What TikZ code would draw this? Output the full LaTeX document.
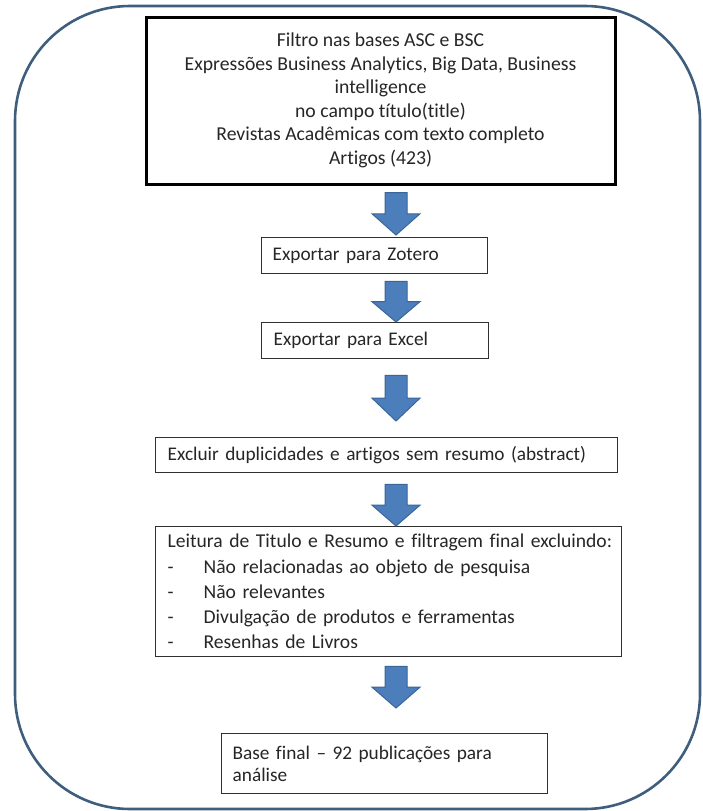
\documentclass[tikz,border=0pt]{standalone}
\usepackage{fontspec}
\setmainfont{Carlito}[Ligatures=NoCommon]
\usetikzlibrary{calc}
\definecolor{frameblue}{HTML}{3F5E7E}
\definecolor{arrowfill}{HTML}{4C7EBC}
\definecolor{arrowline}{HTML}{3A6597}
\definecolor{txtgray}{HTML}{262626}
\definecolor{boxline}{HTML}{303030}
\newcommand\flowarrow[2]{%
  \filldraw[blockarrow] let \p1=#1, \p2=#2 in
    ({\x1-11pt},\y1) -- ({\x1+11pt},\y1) -- ({\x1+11pt},{(\y1+\y2)/2}) --
    ({\x1+24pt},{(\y1+\y2)/2}) -- (\x1,\y2) -- ({\x1-24pt},{(\y1+\y2)/2}) --
    ({\x1-11pt},{(\y1+\y2)/2}) -- cycle;}
\newcommand\listline[1]{\hspace*{6pt}\makebox[36pt][l]{-}#1}
\begin{document}
\begin{tikzpicture}[x=1pt,y=-1pt,
  every node/.style={text=txtgray},
  frame/.style={draw=frameblue,line width=2.6pt,rounded corners=115pt},
  bigbox/.style={draw=black,line width=3pt,align=center,inner sep=0pt,
    font=\fontsize{19.7}{23.5}\selectfont},
  plainbox/.style={draw=boxline,line width=1.3pt,anchor=north west,align=left,
    inner ysep=0pt,font=\fontsize{19.3}{23}\selectfont},
  blockarrow/.style={fill=arrowfill,draw=arrowline,line width=1pt,line join=miter}]
\fill[white] (0,0) rectangle (702,811);
\useasboundingbox (0,0) rectangle (702,811);
\draw[frame] (15,6) rectangle (700,809);
\node[bigbox,minimum width=469pt,minimum height=167pt] (top) at (380.5,100.5)
  {Filtro nas bases ASC e BSC\\
   Expressões Business Analytics, Big Data, Business\\
   intelligence\\
   no campo título(title)\\
   Revistas Acadêmicas com texto completo\\
   Artigos (423)};
\node[plainbox,inner xsep=11pt,text width=204pt,minimum height=36pt] (zot) at (261,237)
  {Exportar para Zotero};
\node[plainbox,inner xsep=12pt,text width=203pt,minimum height=36pt] (exc) at (261,322)
  {Exportar para Excel};
\node[plainbox,inner xsep=12pt,text width=438pt,minimum height=35pt] (dup) at (155,437)
  {Excluir duplicidades e artigos sem resumo (abstract)};
\node[plainbox,inner xsep=6pt,text width=454pt,minimum height=130pt,
  font=\fontsize{19.6}{25.3}\selectfont] (leit) at (155,526)
  {\hspace*{6pt}Leitura de Titulo e Resumo e filtragem final excluindo:\\
   \listline{Não relacionadas ao objeto de pesquisa}\\
   \listline{Não relevantes}\\
   \listline{Divulgação de produtos e ferramentas}\\
   \listline{Resenhas de Livros}};
\node[plainbox,inner xsep=11pt,text width=304pt,minimum height=60pt,
  font=\fontsize{19.3}{21.5}\selectfont] (fin) at (221,733)
  {Base final – 92 publicações para\\análise};
\coordinate (ax) at (396,0);
\flowarrow{($(top.south -| ax)+(0,7)$)}{($(zot.north -| ax)+(0,-2)$)}
\flowarrow{($(zot.south -| ax)+(0,7)$)}{($(exc.north -| ax)+(0,0)$)}
\flowarrow{($(exc.south -| ax)+(0,16)$)}{($(dup.north -| ax)+(0,-16)$)}
\flowarrow{($(dup.south -| ax)+(0,11)$)}{($(leit.north -| ax)+(0,0)$)}
\flowarrow{($(leit.south -| ax)+(0,9)$)}{($(fin.north -| ax)+(0,-25)$)}
\end{tikzpicture}
\end{document}
